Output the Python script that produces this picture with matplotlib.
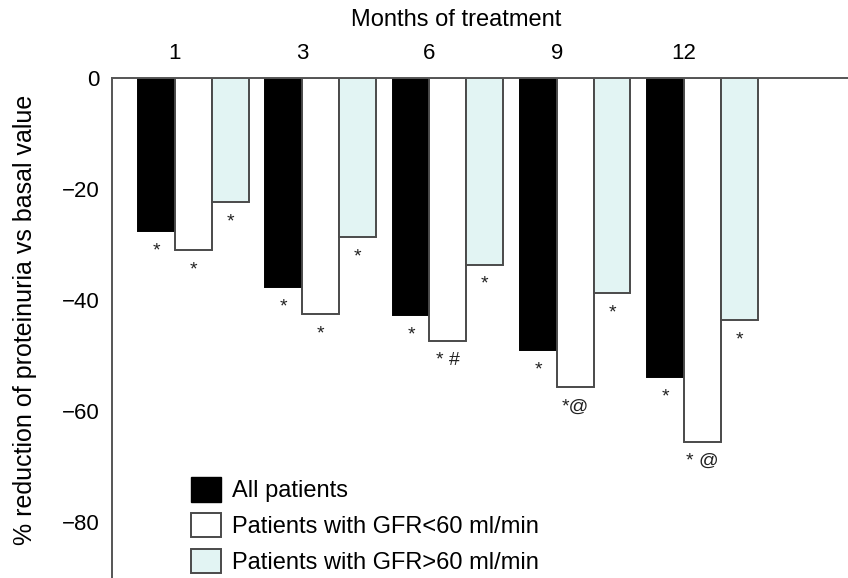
"""Proteinuria reduction vs months of treatment, grouped bars hanging from 0."""
import numpy as np
import matplotlib
matplotlib.use("Agg")
import matplotlib.pyplot as plt
from matplotlib.patches import Patch

months = ["1", "3", "6", "9", "12"]
all_patients = [-27.6, -37.6, -42.7, -49.0, -53.9]
gfr_below_60 = [-31.0, -42.5, -47.4, -55.7, -65.5]
gfr_above_60 = [-22.3, -28.6, -33.6, -38.7, -43.6]
marks_all = ["*", "*", "*", "*", "*"]
marks_below = ["*", "*", "* #", "*@", "* @"]
marks_above = ["*", "*", "*", "*", "*"]
y_ticks = [0, -20, -40, -60, -80]

CYAN = "#e2f4f3"
EDGE = "#4a4a4a"
W = 0.29
FS = 16

plt.rcParams["font.family"] = ["Liberation Sans", "DejaVu Sans"]

fig = plt.figure(figsize=(8.48, 5.78), dpi=100)
ax = fig.add_axes([112 / 848, 0.0, 1 - 112 / 848, 1 - 78 / 578])

x = np.arange(len(months))
series = [
    (all_patients, -W / 2, "black", "black", marks_all),
    (gfr_below_60, W / 2, "white", EDGE, marks_below),
    (gfr_above_60, 1.5 * W, CYAN, EDGE, marks_above),
]
for vals, off, fc, ec, marks in series:
    ax.bar(x + off, vals, width=W, color=fc, edgecolor=ec, linewidth=1.4,
           align="center", zorder=2)
    for xi, v, m in zip(x + off, vals, marks):
        ax.text(xi, v - 2.0, m, ha="center", va="top", fontsize=14,
                color="#222222")

ax.set_xlim(-0.495, 5.29)
ax.set_ylim(-90, 0)

ax.xaxis.tick_top()
ax.set_xticks(x)
ax.set_xticklabels(months, fontsize=FS)
ax.tick_params(axis="x", length=0, pad=10)
ax.xaxis.set_label_position("top")
ax.set_xlabel("Months of treatment", fontsize=FS + 1)
ax.xaxis.set_label_coords((456 - 112) / 736, 1.0 + 52 / 500)

ax.set_yticks(y_ticks)
ax.set_yticklabels(["0" if t == 0 else f"\u2212{abs(t)}" for t in y_ticks],
                   fontsize=FS)
ax.tick_params(axis="y", length=0, pad=9)
ax.set_ylabel("% reduction of proteinuria vs basal value", fontsize=FS + 2)
ax.yaxis.set_label_coords(-75 / 736, (578 - 320) / 500)

for side in ("right", "bottom"):
    ax.spines[side].set_visible(False)
for side in ("left", "top"):
    ax.spines[side].set_color("#555555")
    ax.spines[side].set_linewidth(1.4)

handles = [
    Patch(facecolor="black", edgecolor="black"),
    Patch(facecolor="white", edgecolor=EDGE, linewidth=1.4),
    Patch(facecolor=CYAN, edgecolor=EDGE, linewidth=1.4),
]
labels = ["All patients", "Patients with GFR<60 ml/min",
          "Patients with GFR>60 ml/min"]
fig.legend(handles, labels, loc="lower left",
           bbox_to_anchor=(177 / 848, -10 / 578), frameon=False,
           fontsize=FS + 1, handlelength=1.25, handleheight=1.2,
           labelspacing=0.45, handletextpad=0.5, borderaxespad=0.2)

fig.savefig("out.png", dpi=100)
